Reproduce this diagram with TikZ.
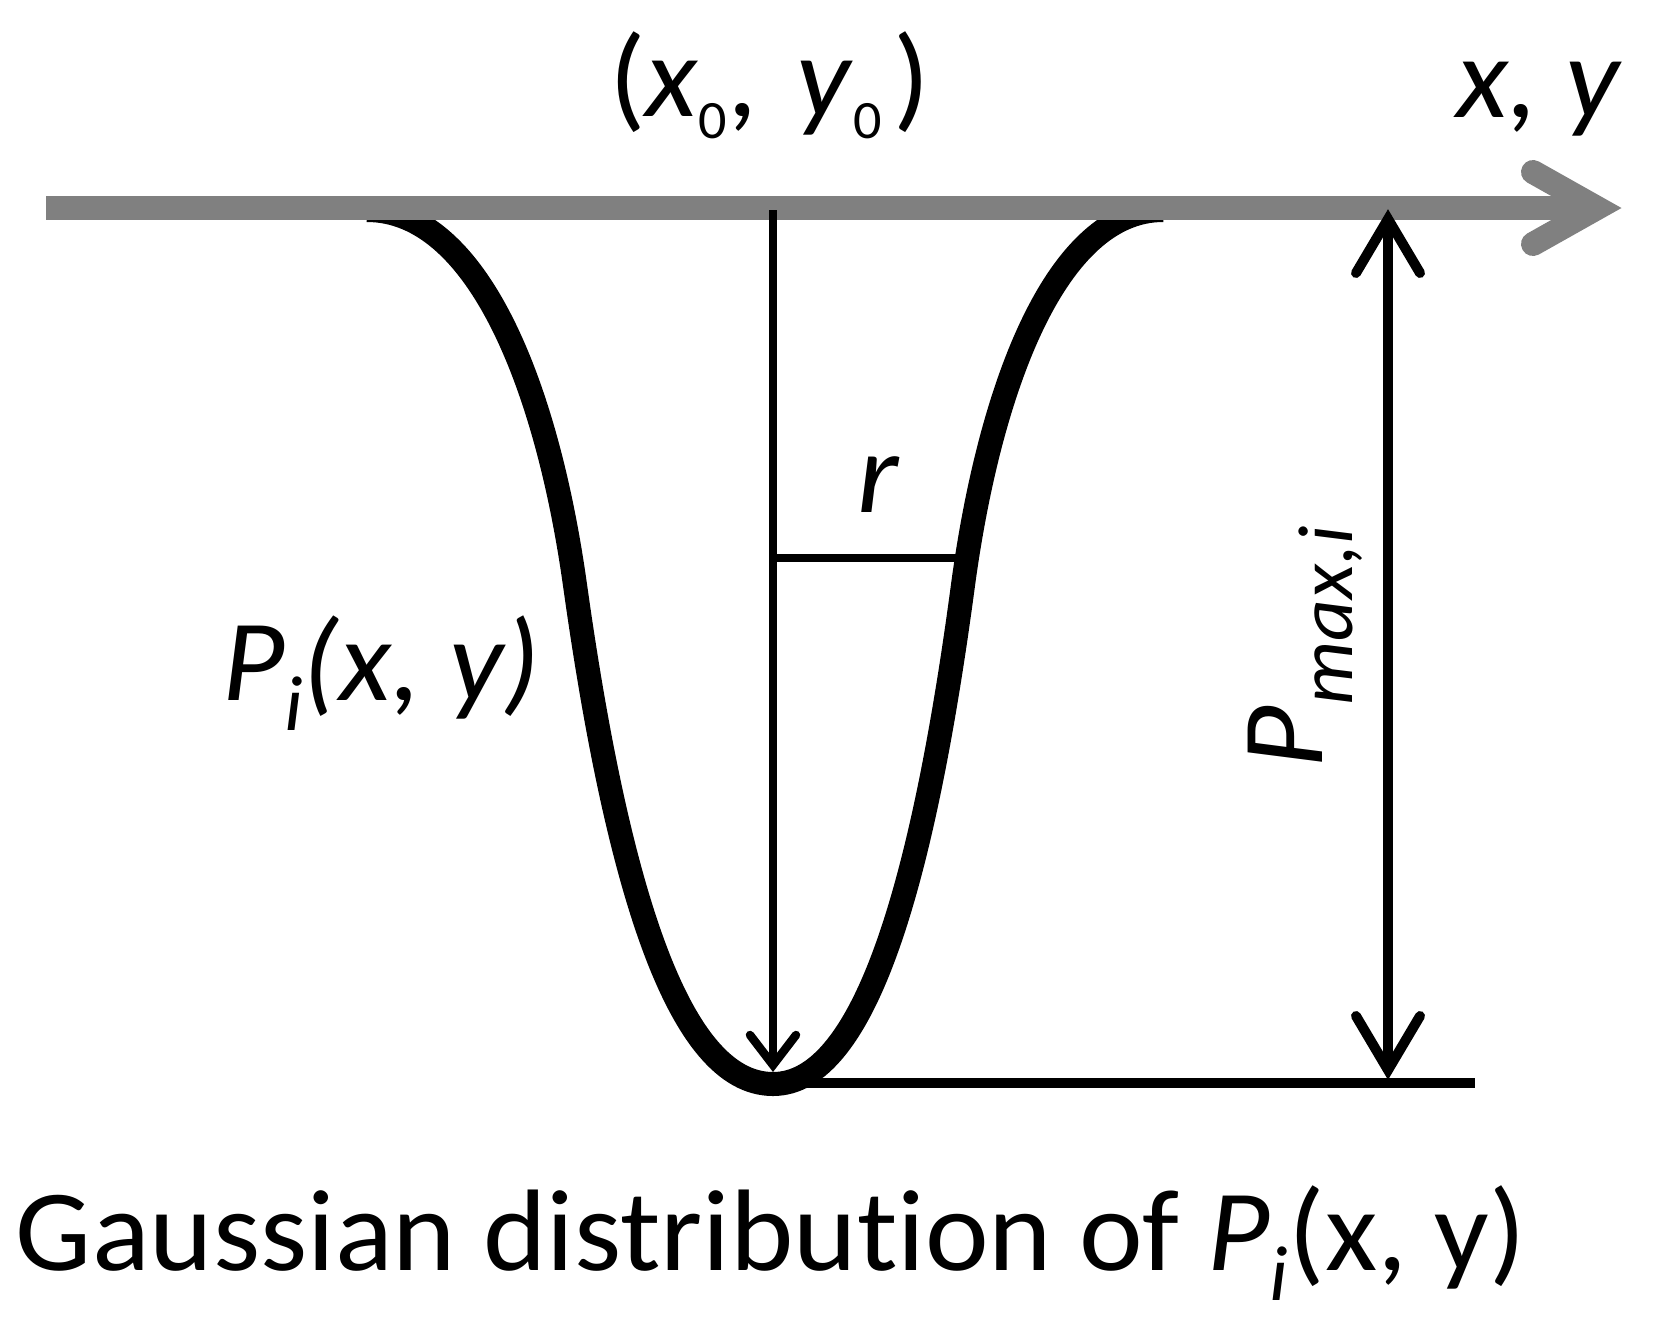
\documentclass[tikz,border=0pt]{standalone}
\usepackage{fontspec}
\setmainfont{Carlito}[Ligatures=NoCommon, FakeStretch=1.04]
\definecolor{axisgray}{RGB}{128,128,128}
\newcommand\mysubA[1]{\raisebox{-22pt}{\fontsize{54}{54}\selectfont #1}}
\newcommand\mysubB[1]{\raisebox{-30pt}{\fontsize{78}{78}\selectfont #1}}
\begin{document}
\begin{tikzpicture}[x=1pt,y=-1pt,
  axisline/.style={draw=axisgray, line width=24pt},
  axishead/.style={draw=axisgray, line width=24pt, line cap=round, line join=miter},
  curveline/.style={draw=black, line width=24pt},
  thinline/.style={draw=black, line width=8.5pt},
  thinhead/.style={draw=black, line width=8.5pt, line cap=round, line join=miter},
  dimline/.style={draw=black, line width=10pt},
  dimhead/.style={draw=black, line width=10pt, line cap=round, line join=miter},
  lbl/.style={inner sep=0pt, outer sep=0pt, anchor=base west, font=\fontsize{116}{120}\selectfont}
]
\useasboundingbox[fill=white] (0,0) rectangle (1653,1320);

% r line (under the curve)
\coordinate (rL) at (773,558);
\coordinate (rR) at (966,558);
\draw[thinline] (rL) -- (rR);

% bottom reference line
\coordinate (bL) at (790,1083);
\coordinate (bR) at (1475,1083);
\draw[dimline] (bL) -- (bR);

% Gaussian curve
\draw[curveline] (367,210) .. controls (477,210) and (547,385) .. (575,585)
  .. controls (617,885) and (678,1084) .. (773,1084)
  .. controls (864,1084) and (923,885) .. (963,585)
  .. controls (990,385) and (1057,210) .. (1163,210);

% axis
\coordinate (axL) at (46,208);
\coordinate (axR) at (1590,208);
\coordinate (axTip) at (1597,208);
\coordinate (axA1) at (1533,172);
\coordinate (axA2) at (1533,244);
\draw[axisline] (axL) -- (axR);
\draw[axishead] (axA1) -- (axTip) -- (axA2);

% central arrow
\coordinate (cTop) at (773,210);
\coordinate (cTip) at (773,1065);
\coordinate (cA1) at (750,1035);
\coordinate (cA2) at (796,1035);
\draw[thinline] (cTop) -- (cTip);
\draw[thinhead] (cA1) -- (cTip) -- (cA2);

% P_max arrow
\coordinate (pTop) at (1388,219);
\coordinate (pBot) at (1388,1070);
\coordinate (pT1) at (1356,273);
\coordinate (pT2) at (1420,273);
\coordinate (pB1) at (1356,1016);
\coordinate (pB2) at (1420,1016);
\draw[dimline] (pTop) -- (pBot);
\draw[dimhead] (pT1) -- (pTop) -- (pT2);
\draw[dimhead] (pB1) -- (pBot) -- (pB2);

% labels
\node[lbl] (t0) at (609,116) {(\textit{x}\mysubA{0}, \kern12pt\textit{y}\mysubA{0}\kern12pt)};
\node[lbl] (txy) at (1456,117) {\textit{x, y}};
\node[lbl] (tr) at (857,512) {\textit{r}};
\node[lbl] (tp) at (222,700) {\textit{P\mysubB{i}(x, y)}};
\node[lbl, rotate=90] (tpm) at (1322,768) {\textit{P\mysubB{max,i}}};
\node[lbl] (cap) at (16,1270) {Gaussian distribution of \textit{P\mysubB{i}}(x, y)};
\end{tikzpicture}
\end{document}
